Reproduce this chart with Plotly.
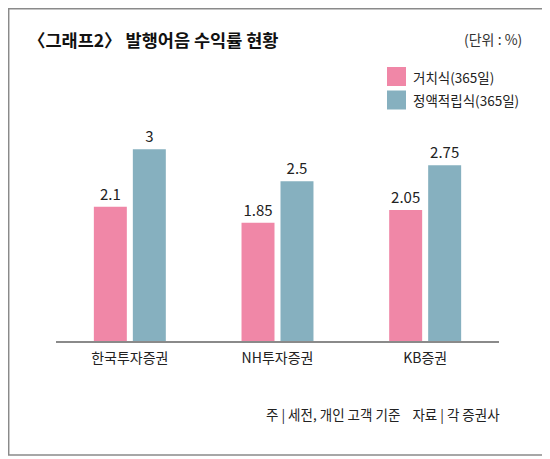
import plotly.graph_objects as go

# data
companies = ['한국투자증권', 'NH투자증권', 'KB증권']
series_names = ['거치식(365일)', '정액적립식(365일)']
deferred = [2.1, 1.85, 2.05]
installment = [3, 2.5, 2.75]
colors = ['#f087a7', '#86b0bf']

# page has an 8px body margin, so work in figure pixels (reference px - 8)
O = 8
W, H = 550 - O, 459 - O
L, R, T, B = 56 - O, 51, 111 - O, 118
pw, ph = W - L - R, H - T - B


def px(x):
    return (x - O - L) / pw


def py(y):
    return (H - B - (y - O)) / ph


fig = go.Figure()
for name, vals, col in zip(series_names, [deferred, installment], colors):
    fig.add_trace(go.Bar(x=companies, y=vals, name=name, marker_color=col,
                         marker_line_width=0,
                         text=[str(v) for v in vals], textposition='outside',
                         textfont=dict(size=15, color='#222'),
                         cliponaxis=False, showlegend=False))

fig.update_layout(
    width=W, height=H,
    margin=dict(l=L, r=R, t=T, b=B),
    paper_bgcolor='white', plot_bgcolor='white',
    font=dict(family='Noto Sans CJK KR', color='#222'),
    barmode='group', bargap=0.472, bargroupgap=0.154,
    xaxis=dict(showline=True, linecolor='#8a8a8a', linewidth=2,
               ticks='', tickfont=dict(size=14, color='#222'), showgrid=False,
               ticklabelstandoff=3),
    yaxis=dict(range=[0, 3.6], visible=False, showgrid=False),
)

shapes = [
    # outer frame
    dict(type='rect', xref='paper', yref='paper',
         x0=px(8.7), x1=px(546), y0=py(8.7), y1=py(455),
         line=dict(color='#8a8a8a', width=1.5)),
]
annotations = [
    dict(text='<b>〈그래프2〉 발행어음 수익률 현황</b>', x=px(26), y=py(39),
         xanchor='left', yanchor='middle', showarrow=False,
         font=dict(size=17.5, color='#111')),
    dict(text='(단위 : %)', x=px(524), y=py(39), xanchor='right', yanchor='middle',
         showarrow=False, font=dict(size=14, color='#333')),
    dict(text='주 | 세전, 개인 고객 기준    자료 | 각 증권사', x=px(502), y=py(414),
         xanchor='right', yanchor='middle', showarrow=False,
         font=dict(size=13.5, color='#222')),
]
# legend
for i, (name, col) in enumerate(zip(series_names, colors)):
    top = 67 + i * 23.5
    shapes.append(dict(type='rect', xref='paper', yref='paper',
                       x0=px(387), x1=px(406), y0=py(top), y1=py(top + 19),
                       fillcolor=col, line=dict(width=0)))
    annotations.append(dict(text=name, x=px(411), y=py(top + 10), xanchor='left',
                            yanchor='middle', showarrow=False,
                            font=dict(size=13.5, color='#222')))

for a in annotations:
    a['xref'] = 'paper'
    a['yref'] = 'paper'

fig.update_layout(shapes=shapes, annotations=annotations)
fig.write_html('out.html')
